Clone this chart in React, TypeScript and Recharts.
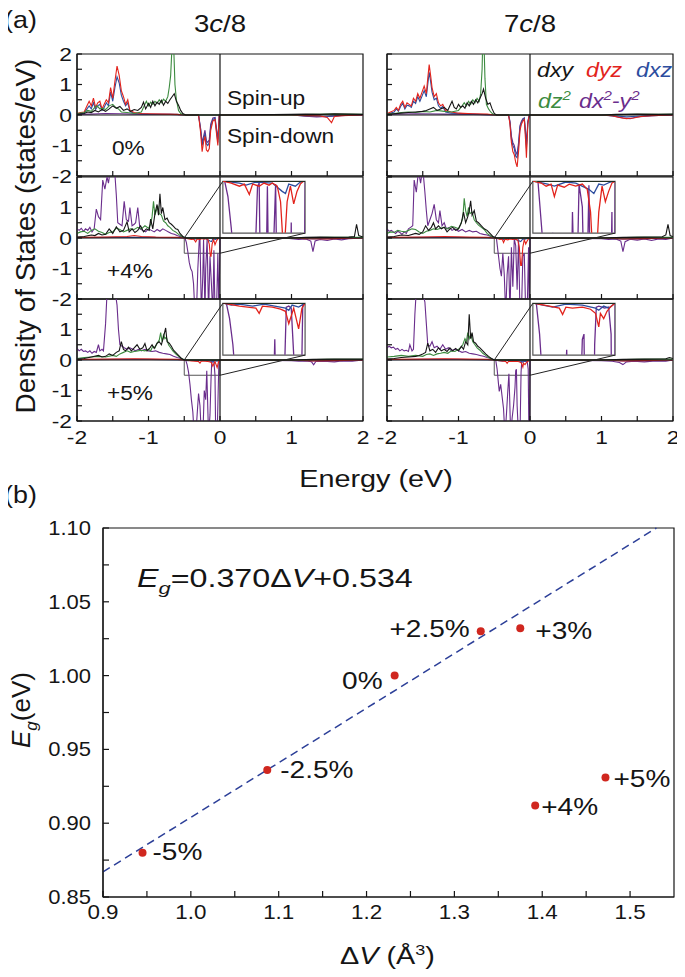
import React from 'react';
import { LineChart, Line, XAxis, YAxis, ReferenceLine, ReferenceArea, ComposedChart, Scatter } from 'recharts';

type Pt = [number, number];

// ---------- (a) DOS data: [energy (eV), DOS (states/eV)] ----------
// Panel A: 3c/8, 0%
const A_dxy: Pt[] = [[-2,0.02],[-1.9,0.05],[-1.85,0.1],[-1.8,0.08],[-1.75,0.15],[-1.7,0.1],[-1.65,0.18],[-1.6,0.12],[-1.55,0.2],[-1.5,0.3],[-1.45,0.22],[-1.4,0.28],[-1.35,0.15],[-1.3,0.2],[-1.25,0.12],[-1.2,0.18],[-1.15,0.15],[-1.1,0.25],[-1.07,0.42],[-1.04,0.2],[-1.0,0.38],[-0.97,0.25],[-0.94,0.45],[-0.91,0.3],[-0.88,0.42],[-0.85,0.35],[-0.82,0.48],[-0.79,0.32],[-0.76,0.45],[-0.73,0.38],[-0.7,0.5],[-0.67,0.6],[-0.64,0.7],[-0.61,0.45],[-0.58,0.32],[-0.55,0.15],[-0.52,0.05],[-0.48,0],[0,0],[1.0,0.02],[1.2,0.03],[1.4,0.02],[1.6,0.04],[1.8,0.03],[2,0.02]];
const A_dyz: Pt[] = [[-2,0.05],[-1.95,0.08],[-1.9,0.1],[-1.86,0.3],[-1.83,0.45],[-1.8,0.3],[-1.77,0.55],[-1.74,0.25],[-1.71,0.4],[-1.68,0.45],[-1.65,0.2],[-1.62,0.35],[-1.59,0.5],[-1.56,0.4],[-1.53,0.9],[-1.5,0.55],[-1.47,1.1],[-1.44,1.6],[-1.41,1.3],[-1.38,0.8],[-1.35,0.6],[-1.32,0.35],[-1.29,0.5],[-1.26,0.15],[-1.2,0.08],[-1.1,0.05],[-1.0,0.04],[-0.8,0.03],[-0.6,0.02],[-0.5,0],[-0.3,0],[-0.27,-0.6],[-0.25,-1.2],[-0.23,-0.9],[-0.21,-0.7],[-0.19,-1.15],[-0.17,-1.2],[-0.15,-1.1],[-0.13,-0.5],[-0.1,-0.2],[-0.07,-0.15],[-0.04,-0.8],[-0.03,-1.0],[-0.01,0],[0,0],[1.0,0],[1.2,-0.02],[1.4,-0.03],[1.5,-0.08],[1.56,-0.25],[1.6,-0.05],[1.7,-0.02],[2,0]];
const A_dxz: Pt[] = [[-2,0.03],[-1.9,0.06],[-1.86,0.2],[-1.83,0.3],[-1.8,0.2],[-1.77,0.4],[-1.74,0.18],[-1.71,0.3],[-1.68,0.35],[-1.65,0.15],[-1.62,0.25],[-1.59,0.4],[-1.56,0.3],[-1.53,0.75],[-1.5,0.45],[-1.47,0.9],[-1.44,1.25],[-1.41,1.05],[-1.38,0.65],[-1.35,0.45],[-1.32,0.3],[-1.29,0.4],[-1.26,0.12],[-1.2,0.05],[-1.0,0.03],[-0.6,0.02],[-0.5,0],[-0.3,0],[-0.27,-0.5],[-0.25,-1.0],[-0.23,-0.8],[-0.21,-0.6],[-0.19,-0.95],[-0.17,-1.0],[-0.15,-0.9],[-0.13,-0.4],[-0.1,-0.15],[-0.07,-0.1],[-0.04,-0.7],[-0.03,-0.9],[-0.01,0],[0,0],[1.0,0],[1.2,-0.03],[1.4,-0.05],[1.5,-0.04],[1.6,-0.03],[1.7,-0.01],[2,0]];
const A_dz2: Pt[] = [[-2,0.05],[-1.9,0.08],[-1.85,0.15],[-1.8,0.12],[-1.75,0.25],[-1.72,0.3],[-1.68,0.2],[-1.64,0.22],[-1.6,0.18],[-1.55,0.3],[-1.5,0.35],[-1.46,0.25],[-1.42,0.2],[-1.38,0.1],[-1.3,0.08],[-1.2,0.05],[-1.1,0.1],[-1.06,0.3],[-1.03,0.45],[-1.0,0.3],[-0.97,0.42],[-0.94,0.35],[-0.91,0.45],[-0.88,0.38],[-0.85,0.5],[-0.82,0.4],[-0.79,0.52],[-0.76,0.45],[-0.73,0.6],[-0.71,0.9],[-0.69,1.3],[-0.67,2.3],[-0.65,2.4],[-0.63,1.0],[-0.61,0.5],[-0.58,0.15],[-0.55,0.05],[-0.5,0],[0,0],[1.0,0],[1.3,0.02],[1.6,0.03],[2,0.02]];
const A_dx2: Pt[] = [[-2,0.02],[-1.8,0.03],[-1.6,0.05],[-1.4,0.04],[-1.2,0.03],[-1.0,0.02],[-0.7,0.02],[-0.5,0],[-0.3,0],[-0.27,-0.45],[-0.25,-0.9],[-0.23,-0.7],[-0.21,-0.5],[-0.19,-0.85],[-0.17,-0.9],[-0.15,-0.8],[-0.13,-0.3],[-0.1,-0.1],[-0.07,-0.08],[-0.04,-0.6],[-0.03,-0.8],[-0.01,0],[0,0],[1.0,0],[1.2,-0.04],[1.35,-0.06],[1.5,-0.05],[1.65,-0.03],[1.8,-0.01],[2,0]];

// Panel B: 7c/8, 0%
const B_dxy: Pt[] = [[-2,0.02],[-1.9,0.04],[-1.8,0.06],[-1.7,0.08],[-1.6,0.1],[-1.5,0.12],[-1.45,0.15],[-1.4,0.2],[-1.35,0.25],[-1.3,0.15],[-1.25,0.2],[-1.2,0.25],[-1.15,0.15],[-1.12,0.3],[-1.09,0.45],[-1.06,0.25],[-1.03,0.2],[-1.0,0.35],[-0.97,0.25],[-0.94,0.3],[-0.91,0.22],[-0.88,0.4],[-0.85,0.3],[-0.82,0.45],[-0.79,0.35],[-0.76,0.5],[-0.73,0.4],[-0.7,0.55],[-0.67,0.7],[-0.65,0.85],[-0.62,0.55],[-0.59,0.35],[-0.56,0.4],[-0.53,0.2],[-0.5,0.05],[-0.47,0],[0,0],[1.0,0],[1.2,0.02],[1.5,0.03],[1.8,0.02],[2,0.03]];
const B_dyz: Pt[] = [[-2,0.05],[-1.95,0.1],[-1.9,0.15],[-1.87,0.25],[-1.84,0.15],[-1.81,0.35],[-1.78,0.45],[-1.75,0.25],[-1.72,0.4],[-1.69,0.35],[-1.66,0.3],[-1.63,0.55],[-1.6,0.45],[-1.57,0.7],[-1.54,0.55],[-1.51,0.75],[-1.48,0.95],[-1.45,0.7],[-1.43,1.2],[-1.41,1.65],[-1.39,1.3],[-1.37,0.9],[-1.34,0.6],[-1.31,0.7],[-1.28,0.4],[-1.25,0.3],[-1.22,0.35],[-1.18,0.15],[-1.1,0.1],[-1.0,0.06],[-0.8,0.04],[-0.6,0.03],[-0.5,0],[-0.3,0],[-0.28,-0.3],[-0.26,-0.9],[-0.24,-1.2],[-0.22,-1.3],[-0.2,-1.55],[-0.18,-1.7],[-0.16,-1.2],[-0.14,-0.5],[-0.12,-0.3],[-0.1,-0.2],[-0.08,-0.15],[-0.06,-0.9],[-0.05,-1.4],[-0.03,-0.3],[-0.01,0],[0,0],[1.0,0],[1.15,-0.02],[1.25,-0.08],[1.35,-0.12],[1.45,-0.1],[1.55,-0.05],[1.7,-0.02],[2,0]];
const B_dxz: Pt[] = [[-2,0.03],[-1.9,0.1],[-1.87,0.2],[-1.84,0.12],[-1.81,0.28],[-1.78,0.38],[-1.75,0.2],[-1.72,0.32],[-1.69,0.3],[-1.66,0.25],[-1.63,0.45],[-1.6,0.38],[-1.57,0.6],[-1.54,0.45],[-1.51,0.62],[-1.48,0.8],[-1.45,0.6],[-1.43,1.0],[-1.41,1.4],[-1.39,1.1],[-1.37,0.75],[-1.34,0.5],[-1.31,0.55],[-1.28,0.3],[-1.25,0.22],[-1.22,0.28],[-1.18,0.1],[-1.1,0.06],[-0.8,0.03],[-0.5,0],[-0.3,0],[-0.28,-0.25],[-0.26,-0.8],[-0.24,-1.0],[-0.22,-1.1],[-0.2,-1.35],[-0.18,-1.4],[-0.16,-1.0],[-0.14,-0.4],[-0.12,-0.25],[-0.1,-0.15],[-0.08,-0.1],[-0.06,-0.7],[-0.05,-1.1],[-0.03,-0.25],[-0.01,0],[0,0],[1.0,0],[1.2,-0.03],[1.35,-0.06],[1.5,-0.04],[1.7,-0.02],[2,0]];
const B_dz2: Pt[] = [[-2,0.03],[-1.9,0.05],[-1.8,0.08],[-1.7,0.1],[-1.6,0.08],[-1.5,0.12],[-1.4,0.1],[-1.3,0.15],[-1.2,0.12],[-1.1,0.1],[-1.0,0.15],[-0.95,0.3],[-0.92,0.4],[-0.89,0.3],[-0.86,0.45],[-0.83,0.35],[-0.8,0.5],[-0.77,0.4],[-0.74,0.55],[-0.71,0.45],[-0.69,0.7],[-0.67,1.5],[-0.66,2.5],[-0.645,2.5],[-0.63,1.2],[-0.61,0.35],[-0.58,0.2],[-0.55,0.1],[-0.52,0.03],[-0.48,0],[0,0],[1.0,0],[1.5,0.02],[2,0.02]];
const B_dx2: Pt[] = [[-2,0.02],[-1.6,0.04],[-1.2,0.03],[-0.8,0.02],[-0.5,0],[-0.3,0],[-0.28,-0.2],[-0.26,-0.7],[-0.24,-0.9],[-0.22,-1.0],[-0.2,-1.2],[-0.18,-1.3],[-0.16,-0.9],[-0.14,-0.35],[-0.12,-0.2],[-0.1,-0.12],[-0.08,-0.1],[-0.06,-0.6],[-0.05,-1.0],[-0.03,-0.2],[-0.01,0],[0,0],[1.0,0],[1.15,-0.03],[1.3,-0.1],[1.4,-0.12],[1.5,-0.06],[1.7,-0.02],[2,0]];

// Panel C: 3c/8, +4%
const C_dxy: Pt[] = [[-2,0.03],[-1.9,0.05],[-1.8,0.1],[-1.75,0.08],[-1.7,0.15],[-1.65,0.1],[-1.6,0.12],[-1.55,0.3],[-1.5,0.15],[-1.45,0.37],[-1.4,0.2],[-1.35,0.25],[-1.3,0.53],[-1.27,0.2],[-1.23,0.3],[-1.19,0.18],[-1.15,0.25],[-1.11,0.4],[-1.07,0.2],[-1.03,0.3],[-0.99,0.25],[-0.97,0.62],[-0.94,0.3],[-0.91,0.8],[-0.88,1.1],[-0.86,0.75],[-0.84,1.45],[-0.82,0.8],[-0.8,1.0],[-0.77,0.6],[-0.74,0.65],[-0.71,0.5],[-0.68,0.45],[-0.65,0.38],[-0.62,0.3],[-0.59,0.28],[-0.56,0.15],[-0.52,0.05],[-0.48,0],[0,0],[1.0,0],[1.2,0.02],[1.4,0.03],[1.6,0.02],[1.8,0.03],[1.88,0.05],[1.91,0.45],[1.94,0.08],[2,0.03]];
const C_dyz: Pt[] = [[-2,0.02],[-1.6,0.03],[-1.3,0.05],[-1.2,0.08],[-1.1,0.05],[-0.9,0.03],[-0.6,0.02],[-0.5,0],[-0.45,-0.02],[-0.4,-0.05],[-0.37,-0.03],[-0.34,-0.13],[-0.32,-0.03],[-0.28,-0.05],[-0.25,-0.02],[-0.22,-0.04],[-0.2,-0.02],[-0.17,-0.05],[-0.15,-0.2],[-0.135,-0.6],[-0.125,-0.6],[-0.11,-0.2],[-0.09,-0.05],[-0.07,-0.22],[-0.05,-0.1],[-0.03,-0.03],[-0.01,0],[0,0],[1.0,0],[1.2,-0.02],[1.5,-0.03],[1.8,-0.01],[2,0]];
const C_dxz: Pt[] = [[-2,0.01],[-1.5,0.02],[-1.0,0.02],[-0.5,0],[-0.4,-0.02],[-0.36,-0.04],[-0.3,-0.01],[-0.2,-0.02],[-0.14,-0.1],[-0.12,-0.12],[-0.1,-0.03],[-0.06,-0.05],[-0.03,-0.01],[0,0],[1.0,0],[1.3,-0.03],[1.6,-0.02],[2,0]];
const C_dz2: Pt[] = [[-2,0.15],[-1.95,0.2],[-1.9,0.22],[-1.85,0.15],[-1.8,0.25],[-1.75,0.3],[-1.7,0.22],[-1.65,0.18],[-1.6,0.12],[-1.55,0.18],[-1.5,0.2],[-1.45,0.32],[-1.4,0.28],[-1.35,0.2],[-1.3,0.25],[-1.25,0.3],[-1.2,0.28],[-1.15,0.35],[-1.1,0.3],[-1.05,0.4],[-1.0,0.32],[-0.97,0.45],[-0.95,0.7],[-0.93,1.2],[-0.91,0.75],[-0.89,0.9],[-0.87,1.05],[-0.85,0.8],[-0.82,0.75],[-0.79,0.55],[-0.76,0.5],[-0.73,0.4],[-0.7,0.35],[-0.66,0.25],[-0.62,0.2],[-0.58,0.12],[-0.54,0.06],[-0.5,0.02],[-0.46,0],[0,0],[1.0,0],[1.5,0.02],[2,0.02]];
const C_dx2: Pt[] = [[-2,0.3],[-1.97,0.25],[-1.94,0.32],[-1.91,0.22],[-1.88,0.3],[-1.85,0.25],[-1.82,0.35],[-1.79,0.2],[-1.76,0.3],[-1.73,0.95],[-1.7,0.7],[-1.67,0.6],[-1.64,1.9],[-1.61,1.6],[-1.58,2.0],[-1.56,1.8],[-1.53,2.3],[-1.5,2.2],[-1.47,2.1],[-1.45,1.4],[-1.43,0.5],[-1.4,0.45],[-1.37,0.4],[-1.34,1.2],[-1.31,0.6],[-1.28,0.55],[-1.26,1.0],[-1.23,0.4],[-1.2,0.45],[-1.18,0.5],[-1.15,1.0],[-1.12,0.3],[-1.08,0.25],[-1.04,0.2],[-1.0,0.3],[-0.96,0.25],[-0.92,0.2],[-0.88,0.28],[-0.84,0.22],[-0.8,0.3],[-0.76,0.25],[-0.72,0.2],[-0.68,0.15],[-0.64,0.12],[-0.6,0.08],[-0.56,0.05],[-0.52,0.02],[-0.49,0],[-0.47,-0.15],[-0.45,-0.45],[-0.43,-0.8],[-0.41,-1.0],[-0.39,-1.1],[-0.37,-1.5],[-0.35,-2.5],[-0.33,-2.5],[-0.31,-1.0],[-0.29,-0.05],[-0.28,-0.02],[-0.26,-2.5],[-0.24,-1.2],[-0.23,-0.05],[-0.21,-2.5],[-0.2,-1.0],[-0.18,-0.03],[-0.16,-2.5],[-0.14,-0.6],[-0.12,-1.5],[-0.1,-2.5],[-0.085,-0.4],[-0.07,-2.5],[-0.05,-2.5],[-0.03,-0.5],[-0.015,-2.5],[0,0],[0.9,0],[1.0,-0.02],[1.1,-0.05],[1.2,-0.03],[1.27,-0.1],[1.3,-0.45],[1.33,-0.1],[1.4,-0.05],[1.5,-0.08],[1.6,-0.03],[1.7,-0.06],[1.8,-0.02],[2,0]];

// Panel D: 7c/8, +4%
const D_dxy: Pt[] = [[-2,0.03],[-1.9,0.05],[-1.8,0.1],[-1.7,0.08],[-1.6,0.15],[-1.55,0.12],[-1.5,0.2],[-1.46,0.4],[-1.42,0.25],[-1.38,0.35],[-1.35,0.5],[-1.32,0.3],[-1.28,0.4],[-1.24,0.3],[-1.2,0.35],[-1.16,0.2],[-1.12,0.3],[-1.08,0.35],[-1.04,0.25],[-1.0,0.3],[-0.96,0.5],[-0.93,0.85],[-0.9,0.5],[-0.87,0.7],[-0.85,0.9],[-0.83,1.22],[-0.81,0.75],[-0.78,0.9],[-0.75,0.55],[-0.72,0.5],[-0.68,0.4],[-0.64,0.3],[-0.6,0.25],[-0.56,0.15],[-0.52,0.05],[-0.47,0],[0,0],[1.0,0],[1.3,0.02],[1.6,0.03],[1.85,0.04],[1.9,0.1],[1.93,0.45],[1.96,0.08],[2,0.04]];
const D_dyz: Pt[] = [[-2,0.02],[-1.5,0.03],[-1.2,0.05],[-0.9,0.03],[-0.6,0.02],[-0.5,0],[-0.45,-0.02],[-0.42,-0.05],[-0.39,-0.03],[-0.37,-0.15],[-0.35,-0.04],[-0.31,-0.06],[-0.28,-0.03],[-0.24,-0.05],[-0.2,-0.03],[-0.17,-0.08],[-0.15,-0.3],[-0.13,-0.9],[-0.12,-0.9],[-0.1,-0.3],[-0.08,-0.05],[-0.06,-0.2],[-0.04,-0.1],[-0.02,-0.02],[0,0],[1.0,0],[1.3,-0.03],[1.6,-0.02],[2,0]];
const D_dxz: Pt[] = [[-2,0.01],[-1.5,0.02],[-1.0,0.02],[-0.5,0],[-0.41,-0.03],[-0.37,-0.05],[-0.3,-0.01],[-0.24,-0.02],[-0.16,-0.08],[-0.13,-0.12],[-0.1,-0.03],[-0.07,-0.04],[-0.03,-0.01],[0,0],[1.0,0],[1.3,-0.04],[1.6,-0.02],[2,0]];
const D_dz2: Pt[] = [[-2,0.15],[-1.95,0.2],[-1.9,0.18],[-1.85,0.25],[-1.8,0.22],[-1.75,0.2],[-1.7,0.25],[-1.65,0.3],[-1.6,0.28],[-1.55,0.2],[-1.5,0.15],[-1.45,0.22],[-1.4,0.25],[-1.35,0.3],[-1.3,0.28],[-1.25,0.32],[-1.2,0.35],[-1.15,0.3],[-1.1,0.38],[-1.05,0.35],[-1.0,0.3],[-0.97,0.45],[-0.94,0.65],[-0.92,1.3],[-0.9,0.9],[-0.88,0.7],[-0.86,1.0],[-0.84,0.8],[-0.81,0.85],[-0.78,0.6],[-0.75,0.5],[-0.72,0.42],[-0.68,0.35],[-0.64,0.28],[-0.6,0.15],[-0.56,0.08],[-0.52,0.03],[-0.48,0],[0,0],[1.0,0],[1.5,0.02],[2,0.02]];
const D_dx2: Pt[] = [[-2,0.3],[-1.97,0.22],[-1.94,0.25],[-1.91,0.2],[-1.88,0.15],[-1.85,0.22],[-1.82,0.18],[-1.79,0.12],[-1.76,0.2],[-1.73,0.15],[-1.7,0.3],[-1.67,0.35],[-1.64,0.4],[-1.62,1.9],[-1.59,1.5],[-1.56,2.2],[-1.53,1.8],[-1.5,2.3],[-1.47,1.5],[-1.45,0.9],[-1.43,0.4],[-1.4,0.6],[-1.37,0.8],[-1.34,1.1],[-1.31,0.6],[-1.28,0.5],[-1.26,0.9],[-1.23,0.4],[-1.2,0.5],[-1.17,0.3],[-1.13,0.35],[-1.09,0.25],[-1.05,0.3],[-1.0,0.22],[-0.95,0.28],[-0.9,0.2],[-0.85,0.25],[-0.8,0.2],[-0.75,0.22],[-0.7,0.15],[-0.65,0.12],[-0.6,0.1],[-0.55,0.05],[-0.5,0.02],[-0.47,0],[-0.46,-0.2],[-0.44,-0.6],[-0.42,-1.0],[-0.4,-1.25],[-0.38,-0.5],[-0.36,-1.2],[-0.34,-2.5],[-0.32,-1.2],[-0.3,-0.6],[-0.28,-2.5],[-0.26,-0.3],[-0.24,-1.6],[-0.22,-0.03],[-0.2,-0.25],[-0.18,-1.7],[-0.16,-0.04],[-0.14,-2.5],[-0.12,-2.5],[-0.1,-0.6],[-0.08,-0.5],[-0.06,-2.5],[-0.04,-2.5],[-0.02,-0.3],[-0.01,-2.5],[0,0],[1.0,-0.02],[1.1,-0.05],[1.2,-0.03],[1.27,-0.1],[1.3,-0.45],[1.33,-0.12],[1.4,-0.04],[1.5,-0.07],[1.6,-0.03],[1.7,-0.08],[1.8,-0.03],[1.9,-0.05],[2,0]];

// Panel E: 3c/8, +5%
const E_dxy: Pt[] = [[-2,0.03],[-1.9,0.05],[-1.8,0.1],[-1.7,0.15],[-1.65,0.1],[-1.6,0.12],[-1.55,0.2],[-1.5,0.15],[-1.45,0.25],[-1.41,0.3],[-1.38,0.6],[-1.35,0.35],[-1.32,0.3],[-1.28,0.42],[-1.24,0.3],[-1.2,0.4],[-1.16,0.5],[-1.12,0.35],[-1.08,0.4],[-1.05,0.54],[-1.02,0.3],[-0.98,0.4],[-0.95,0.5],[-0.92,0.38],[-0.88,0.55],[-0.85,0.6],[-0.82,0.5],[-0.79,0.75],[-0.76,1.05],[-0.74,0.6],[-0.71,0.55],[-0.68,0.45],[-0.65,0.32],[-0.62,0.25],[-0.58,0.15],[-0.54,0.05],[-0.5,0],[0,0],[1.0,0],[1.3,0.02],[1.6,0.03],[2,0.03]];
const E_dyz: Pt[] = [[-2,0.02],[-1.5,0.03],[-1.2,0.04],[-0.9,0.03],[-0.6,0.02],[-0.5,0],[-0.4,-0.03],[-0.3,-0.05],[-0.28,-0.1],[-0.26,-0.03],[-0.2,-0.04],[-0.15,-0.06],[-0.12,-0.08],[-0.1,-0.2],[-0.09,-0.15],[-0.07,-0.05],[-0.04,-0.25],[-0.02,-0.05],[0,0],[1.0,0],[1.3,-0.03],[1.6,-0.02],[2,0]];
const E_dxz: Pt[] = [[-2,0.01],[-1.5,0.02],[-1.0,0.02],[-0.5,0],[-0.45,-0.02],[-0.4,-0.01],[-0.32,-0.03],[-0.25,-0.01],[-0.12,-0.05],[-0.1,-0.07],[-0.08,-0.02],[-0.04,-0.04],[0,0],[1.0,0],[1.3,-0.03],[1.6,-0.02],[2,0]];
const E_dz2: Pt[] = [[-2,0.05],[-1.9,0.08],[-1.8,0.1],[-1.7,0.12],[-1.6,0.1],[-1.5,0.15],[-1.45,0.12],[-1.4,0.2],[-1.35,0.25],[-1.3,0.3],[-1.25,0.25],[-1.2,0.28],[-1.15,0.3],[-1.1,0.32],[-1.05,0.3],[-1.0,0.35],[-0.97,0.3],[-0.94,0.45],[-0.91,0.4],[-0.88,0.55],[-0.85,0.65],[-0.83,0.9],[-0.81,0.6],[-0.79,0.82],[-0.77,0.7],[-0.75,0.75],[-0.72,0.5],[-0.69,0.4],[-0.66,0.3],[-0.62,0.2],[-0.58,0.12],[-0.54,0.05],[-0.5,0.01],[-0.46,0],[0,0],[1.0,0],[1.5,0.02],[2,0.02]];
const E_dx2: Pt[] = [[-2,0.38],[-1.97,0.3],[-1.94,0.35],[-1.91,0.28],[-1.88,0.3],[-1.85,0.25],[-1.82,0.3],[-1.79,0.22],[-1.76,0.28],[-1.73,0.25],[-1.7,0.5],[-1.68,0.3],[-1.65,0.35],[-1.63,0.3],[-1.6,1.2],[-1.58,2.2],[-1.56,2.0],[-1.53,2.3],[-1.5,2.1],[-1.47,2.3],[-1.44,1.8],[-1.42,1.0],[-1.4,0.5],[-1.37,0.45],[-1.34,0.4],[-1.3,0.35],[-1.26,0.4],[-1.22,0.35],[-1.18,0.3],[-1.14,0.35],[-1.1,0.3],[-1.05,0.35],[-1.0,0.3],[-0.95,0.28],[-0.9,0.3],[-0.85,0.25],[-0.8,0.22],[-0.75,0.2],[-0.7,0.18],[-0.65,0.12],[-0.6,0.08],[-0.55,0.05],[-0.5,0.01],[-0.48,0],[-0.46,-0.15],[-0.44,-0.4],[-0.42,-0.8],[-0.4,-1.3],[-0.38,-1.7],[-0.36,-2.5],[-0.34,-2.5],[-0.32,-1.8],[-0.3,-1.1],[-0.28,-1.5],[-0.26,-2.5],[-0.24,-2.5],[-0.22,-1.0],[-0.2,-1.3],[-0.185,-0.35],[-0.175,-1.2],[-0.16,-2.5],[-0.14,-1.8],[-0.125,-0.6],[-0.115,-0.04],[-0.1,-0.03],[-0.085,-0.05],[-0.07,-0.5],[-0.06,-2.5],[-0.04,-2.5],[-0.025,-1.0],[-0.015,-0.02],[0,0],[1.0,-0.02],[1.1,-0.04],[1.2,-0.03],[1.28,-0.06],[1.31,-0.16],[1.34,-0.05],[1.45,-0.04],[1.6,-0.06],[1.7,-0.03],[1.85,-0.04],[2,0]];

// Panel F: 7c/8, +5%
const F_dxy: Pt[] = [[-2,0.03],[-1.9,0.05],[-1.8,0.08],[-1.7,0.1],[-1.6,0.12],[-1.55,0.15],[-1.5,0.2],[-1.46,0.25],[-1.43,0.55],[-1.4,0.3],[-1.36,0.35],[-1.32,0.25],[-1.28,0.4],[-1.24,0.3],[-1.2,0.35],[-1.16,0.28],[-1.12,0.4],[-1.08,0.3],[-1.04,0.38],[-1.0,0.3],[-0.96,0.45],[-0.93,0.35],[-0.9,0.6],[-0.87,0.5],[-0.85,1.5],[-0.83,0.7],[-0.81,0.9],[-0.79,0.6],[-0.76,0.55],[-0.73,0.45],[-0.7,0.4],[-0.66,0.3],[-0.62,0.2],[-0.58,0.12],[-0.54,0.05],[-0.5,0],[0,0],[1.0,0],[1.3,0.02],[1.6,0.03],[1.9,0.04],[1.95,0.08],[2,0.05]];
const F_dyz: Pt[] = [[-2,0.02],[-1.5,0.03],[-1.2,0.04],[-0.9,0.03],[-0.6,0.02],[-0.5,0],[-0.4,-0.03],[-0.34,-0.05],[-0.32,-0.11],[-0.3,-0.04],[-0.26,-0.05],[-0.2,-0.04],[-0.15,-0.06],[-0.12,-0.1],[-0.1,-0.23],[-0.09,-0.1],[-0.07,-0.15],[-0.05,-0.08],[-0.03,-0.04],[0,0],[1.0,0],[1.3,-0.03],[1.6,-0.02],[2,0]];
const F_dxz: Pt[] = [[-2,0.01],[-1.5,0.02],[-1.0,0.02],[-0.5,0],[-0.44,-0.02],[-0.38,-0.04],[-0.3,-0.01],[-0.2,-0.02],[-0.12,-0.05],[-0.1,-0.07],[-0.07,-0.03],[-0.04,-0.05],[0,0],[1.0,0],[1.3,-0.03],[1.6,-0.02],[2,0]];
const F_dz2: Pt[] = [[-2,0.1],[-1.9,0.12],[-1.8,0.15],[-1.7,0.12],[-1.6,0.15],[-1.5,0.12],[-1.45,0.18],[-1.4,0.2],[-1.35,0.15],[-1.3,0.2],[-1.25,0.22],[-1.2,0.25],[-1.15,0.22],[-1.1,0.3],[-1.05,0.28],[-1.0,0.35],[-0.97,0.4],[-0.94,0.5],[-0.91,0.7],[-0.89,0.6],[-0.87,0.9],[-0.85,0.7],[-0.83,0.85],[-0.8,0.6],[-0.77,0.5],[-0.74,0.4],[-0.7,0.32],[-0.66,0.22],[-0.62,0.15],[-0.58,0.08],[-0.54,0.03],[-0.5,0],[0,0],[1.0,0],[1.5,0.02],[2,0.03]];
const F_dx2: Pt[] = [[-2,0.4],[-1.97,0.45],[-1.94,0.4],[-1.91,0.42],[-1.88,0.35],[-1.85,0.38],[-1.82,0.3],[-1.79,0.35],[-1.76,0.3],[-1.73,0.32],[-1.7,0.28],[-1.68,0.5],[-1.65,0.3],[-1.63,0.35],[-1.61,1.5],[-1.59,2.3],[-1.56,2.1],[-1.53,2.4],[-1.5,2.2],[-1.47,1.9],[-1.45,1.2],[-1.43,0.5],[-1.4,0.45],[-1.37,0.6],[-1.34,0.4],[-1.3,0.45],[-1.26,0.35],[-1.22,0.5],[-1.18,0.35],[-1.14,0.4],[-1.1,0.3],[-1.05,0.35],[-1.0,0.3],[-0.95,0.25],[-0.9,0.28],[-0.85,0.22],[-0.8,0.2],[-0.75,0.18],[-0.7,0.15],[-0.65,0.12],[-0.6,0.08],[-0.55,0.05],[-0.5,0.01],[-0.48,0],[-0.46,-0.3],[-0.44,-0.8],[-0.43,-1.03],[-0.41,-0.8],[-0.39,-1.2],[-0.37,-1.6],[-0.35,-2.5],[-0.33,-1.8],[-0.31,-1.0],[-0.295,-0.45],[-0.285,-1.2],[-0.27,-2.5],[-0.25,-1.9],[-0.23,-1.5],[-0.21,-0.9],[-0.2,-0.35],[-0.19,-0.3],[-0.18,-1.5],[-0.16,-2.5],[-0.14,-2.5],[-0.125,-0.4],[-0.115,-0.04],[-0.1,-0.03],[-0.08,-0.04],[-0.065,-0.05],[-0.04,-0.04],[-0.025,-0.3],[-0.015,-2.5],[-0.005,-2.5],[0,0],[1.0,-0.02],[1.15,-0.04],[1.25,-0.08],[1.3,-0.15],[1.35,-0.06],[1.45,-0.04],[1.6,-0.06],[1.75,-0.03],[1.9,-0.04],[2,0]];

const E_TICKS = [-2, -1.5, -1, -0.5, 0, 0.5, 1, 1.5, 2];
const DOS_TICKS = [-2, -1.5, -1, -0.5, 0, 0.5, 1, 1.5, 2];
const COLUMN_TITLES = ['3c/8', '7c/8'];
const STRAIN_ROWS = ['0%', '+4%', '+5%'];

// ---------- (b) band gap data ----------
const DV = [0.945, 1.087, 1.232, 1.330, 1.375, 1.392, 1.472];
const EG = [0.880, 0.936, 1.000, 1.030, 1.032, 0.912, 0.931];
const STRAIN = ['-5%', '-2.5%', '0%', '+2.5%', '+3%', '+4%', '+5%'];
const FIT_DV = [0.9, 1.53];
const FIT_EG = [0.867, 1.100];
const DV_TICKS = [0.9, 0.95, 1.0, 1.05, 1.1, 1.15, 1.2, 1.25, 1.3, 1.35, 1.4, 1.45, 1.5];
const EG_TICKS = [0.85, 0.875, 0.9, 0.925, 0.95, 0.975, 1.0, 1.025, 1.05, 1.075, 1.1];

// ---------- styles ----------
const FONT = '"Liberation Sans", Arial, Helvetica, sans-serif';
const INK = '#151515';
const COLORS: Record<string, string> = { dxy: '#151515', dyz: '#e2231c', dxz: '#2d4d9e', dz2: '#3c8b3f', dx2: '#6a2d8c' };
const DRAW_ORDER = ['dx2', 'dxz', 'dyz', 'dz2', 'dxy'];
const LABEL_STYLE = [
  { dx: 10, dy: 7, anchor: 'start' },
  { dx: 13, dy: 8, anchor: 'start' },
  { dx: -12, dy: 13, anchor: 'end' },
  { dx: -11, dy: 6, anchor: 'end' },
  { dx: 15, dy: 11, anchor: 'start' },
  { dx: 6, dy: 10, anchor: 'start' },
  { dx: 8, dy: 10, anchor: 'start' },
];

const toObj = (a: Pt[]) => a.map(([e, v]) => ({ e, v }));

const PANELS = [
  { col: 0, row: 0, inset: false, s: { dxy: A_dxy, dyz: A_dyz, dxz: A_dxz, dz2: A_dz2, dx2: A_dx2 } },
  { col: 1, row: 0, inset: false, s: { dxy: B_dxy, dyz: B_dyz, dxz: B_dxz, dz2: B_dz2, dx2: B_dx2 } },
  { col: 0, row: 1, inset: true, s: { dxy: C_dxy, dyz: C_dyz, dxz: C_dxz, dz2: C_dz2, dx2: C_dx2 } },
  { col: 1, row: 1, inset: true, s: { dxy: D_dxy, dyz: D_dyz, dxz: D_dxz, dz2: D_dz2, dx2: D_dx2 } },
  { col: 0, row: 2, inset: true, s: { dxy: E_dxy, dyz: E_dyz, dxz: E_dxz, dz2: E_dz2, dx2: E_dx2 } },
  { col: 1, row: 2, inset: true, s: { dxy: F_dxy, dyz: F_dyz, dxz: F_dxz, dz2: F_dz2, dx2: F_dx2 } },
];

const PW = 286;
const PH = 122;
const COL_LEFT = [77, 387];
const ROW_TOP = [54, 176.5, 299];
const YW = 40;
const MT = 12;
const MR = 10;
const ZOOM_BOX = { x1: -0.5, x2: 0, y1: -0.5, y2: 0 };
const INSET_BOX = { x1: 0.04, x2: 1.19, y1: 0.16, y2: 1.86 };

function SText(props: any) {
  const { x, y, sx = 1.18, size = 20, anchor = 'start', color = INK, italic = false, children, dy } = props;
  return (
    <text transform={`translate(${x},${y}) scale(${sx},1)`} x={0} y={0} dy={dy} fontSize={size} textAnchor={anchor}
      fill={color} fontFamily={FONT} fontStyle={italic ? 'italic' : 'normal'}>
      {children}
    </text>
  );
}

const isMult = (v: number, step: number) => Math.abs(v / step - Math.round(v / step)) < 1e-6;

function DosPanel({ panel }: any) {
  const { col, row, inset, s } = panel;
  const bottomRow = row === 2;
  const xh = bottomRow ? 34 : 1;
  const mb = bottomRow ? 0 : 12;
  const width = YW + PW + MR;
  const height = MT + PH + xh + mb;
  const xTick = (p: any) => {
    const v = p.payload.value;
    if (!bottomRow || !isMult(v, 1)) return <g />;
    return <SText x={p.x} y={p.y} dy="0.72em" anchor="middle" size={19} sx={1.2}>{String(v)}</SText>;
  };
  const yTick = (p: any) => {
    const v = p.payload.value;
    if (col !== 0 || !isMult(v, 1) || (row > 0 && v === 2)) return <g />;
    return <SText x={p.x} y={p.y} dy="0.35em" anchor="end" size={19} sx={1.2}>{String(v)}</SText>;
  };
  const insetLeft = YW + ((INSET_BOX.x1 + 2) / 4) * PW;
  const insetTop = MT + ((2 - INSET_BOX.y2) / 4) * PH;
  const insetW = ((INSET_BOX.x2 - INSET_BOX.x1) / 4) * PW;
  const insetH = ((INSET_BOX.y2 - INSET_BOX.y1) / 4) * PH;
  return (
    <div style={{ position: 'absolute', left: COL_LEFT[col] - YW, top: ROW_TOP[row] - MT, width, height }}>
      <LineChart width={width} height={height} margin={{ top: MT, right: MR, left: 0, bottom: mb }}>
        <XAxis type="number" dataKey="e" domain={[-2, 2]} ticks={E_TICKS} allowDataOverflow height={xh}
          tickSize={-5} tickMargin={14} tick={xTick} stroke={INK} strokeWidth={1.2} interval={0} />
        <YAxis type="number" dataKey="v" domain={[-2, 2]} ticks={DOS_TICKS} allowDataOverflow width={YW}
          tickSize={-5} tickMargin={10} tick={yTick} stroke={INK} strokeWidth={1.2} interval={0} />
        <ReferenceArea x1={-2} x2={2} y1={-2} y2={2} fill="none" stroke={INK} strokeWidth={1.2} ifOverflow="visible" />
        {DRAW_ORDER.map((k) => (
          <Line key={k} data={toObj(s[k])} dataKey="v" type="linear" stroke={COLORS[k]} strokeWidth={1.1}
            dot={false} isAnimationActive={false} />
        ))}
        <ReferenceLine x={0} stroke={INK} strokeWidth={1.2} />
        <ReferenceLine y={0} stroke={INK} strokeWidth={1.2} />
        {inset && (
          <ReferenceArea x1={ZOOM_BOX.x1} x2={ZOOM_BOX.x2} y1={ZOOM_BOX.y1} y2={ZOOM_BOX.y2} fill="none" stroke="#555" strokeWidth={1} />
        )}
        {inset && (
          <ReferenceArea x1={INSET_BOX.x1} x2={INSET_BOX.x2} y1={INSET_BOX.y1} y2={INSET_BOX.y2} fill="none" stroke="#555" strokeWidth={1.2} />
        )}
        {inset && (
          <ReferenceLine segment={[{ x: ZOOM_BOX.x1, y: ZOOM_BOX.y2 }, { x: INSET_BOX.x1, y: INSET_BOX.y2 }]} stroke="#222" strokeWidth={1} />
        )}
        {inset && (
          <ReferenceLine segment={[{ x: ZOOM_BOX.x2, y: ZOOM_BOX.y1 }, { x: INSET_BOX.x2, y: INSET_BOX.y1 }]} stroke="#222" strokeWidth={1} />
        )}
      </LineChart>
      {inset && (
        <div style={{ position: 'absolute', left: insetLeft, top: insetTop, width: insetW, height: insetH }}>
          <LineChart width={insetW} height={insetH} margin={{ top: 0, right: 0, left: 0, bottom: 0 }}>
            <XAxis type="number" dataKey="e" domain={[ZOOM_BOX.x1, ZOOM_BOX.x2]} allowDataOverflow hide />
            <YAxis type="number" dataKey="v" domain={[ZOOM_BOX.y1, ZOOM_BOX.y2]} allowDataOverflow hide />
            {DRAW_ORDER.map((k) => (
              <Line key={k} data={toObj(s[k])} dataKey="v" type="linear" stroke={COLORS[k]} strokeWidth={1.3}
                dot={false} isAnimationActive={false} />
            ))}
          </LineChart>
        </div>
      )}
    </div>
  );
}

const B_MT = 14;

function GapChart() {
  const pts = DV.map((dv, i) => ({ dv, eg: EG[i], label: STRAIN[i], idx: i }));
  const xTick = (p: any) => {
    const v = p.payload.value;
    if (!isMult(v, 0.1)) return <g />;
    return <SText x={p.x} y={p.y} dy="0.72em" anchor="middle" size={20} sx={1.12}>{v.toFixed(1)}</SText>;
  };
  const yTick = (p: any) => {
    const v = p.payload.value;
    if (!isMult(v, 0.05)) return <g />;
    return <SText x={p.x} y={p.y} dy="0.35em" anchor="end" size={20} sx={1.1}>{v.toFixed(2)}</SText>;
  };
  const shape = (p: any) => {
    const st = LABEL_STYLE[p.payload.idx];
    return (
      <g>
        <circle cx={p.cx} cy={p.cy} r={4} fill="#d0271f" />
        <SText x={p.cx + st.dx} y={p.cy + st.dy} anchor={st.anchor} size={23} sx={1.22}>{p.payload.label}</SText>
      </g>
    );
  };
  return (
    <div style={{ position: 'absolute', left: 43, top: 528 - B_MT }}>
      <ComposedChart width={636} height={B_MT + 369 + 40} margin={{ top: B_MT, right: 5, left: 0, bottom: 0 }}>
        <XAxis type="number" dataKey="dv" domain={[0.9, 1.55]} ticks={DV_TICKS} allowDataOverflow height={40}
          tickSize={-6} tickMargin={14} tick={xTick} stroke={INK} strokeWidth={1.2} interval={0} />
        <YAxis type="number" dataKey="eg" domain={[0.85, 1.1]} ticks={EG_TICKS} allowDataOverflow width={60}
          tickSize={-6} tickMargin={18} tick={yTick} stroke={INK} strokeWidth={1.2} interval={0} />
        <ReferenceArea x1={0.9} x2={1.55} y1={0.85} y2={1.1} fill="none" stroke={INK} strokeWidth={1.2} ifOverflow="visible" />
        <ReferenceLine segment={[{ x: FIT_DV[0], y: FIT_EG[0] }, { x: FIT_DV[1], y: FIT_EG[1] }]}
          stroke="#2c3f98" strokeWidth={1.5} strokeDasharray="8 5" />
        <Scatter data={pts} shape={shape} isAnimationActive={false} />
      </ComposedChart>
    </div>
  );
}

function Overlay() {
  return (
    <svg width={685} height={977} style={{ position: 'absolute', left: 0, top: 0, pointerEvents: 'none' }}>
      <SText x={4} y={28} size={24} sx={1.12}>(a)</SText>
      {COLUMN_TITLES.map((t, i) => (
        <SText key={t} x={COL_LEFT[i] + PW / 2} y={32} size={23} sx={1.2} anchor="middle">
          {t[0]}<tspan fontStyle="italic">{t[1]}</tspan>{t.slice(2)}
        </SText>
      ))}
      {/* legend */}
      <SText x={537} y={77} size={20} sx={1.16} italic color={COLORS.dxy}>dxy</SText>
      <SText x={586} y={77} size={20} sx={1.16} italic color={COLORS.dyz}>dyz</SText>
      <SText x={636} y={77} size={20} sx={1.16} italic color={COLORS.dxz}>dxz</SText>
      <SText x={538} y={108} size={20} sx={1.16} italic color={COLORS.dz2}>dz<tspan dy={-8} fontSize={13}>2</tspan></SText>
      <SText x={579} y={108} size={20} sx={1.16} italic color={COLORS.dx2}>
        dx<tspan dy={-8} fontSize={13}>2</tspan><tspan dy={8}>-y</tspan><tspan dy={-8} fontSize={13}>2</tspan>
      </SText>
      <SText x={227} y={105} size={21} sx={1.08}>Spin-up</SText>
      <SText x={227} y={143} size={21} sx={1.08}>Spin-down</SText>
      {STRAIN_ROWS.map((t, i) => (
        <SText key={t} x={i === 0 ? 112 : 107} y={[155, 278, 400][i]} size={21} sx={1.08}>{t}</SText>
      ))}
      <SText x={376} y={487} size={24} sx={1.2} anchor="middle">Energy (eV)</SText>
      <text transform="translate(35,236) rotate(-90)" fontSize={28} textAnchor="middle" fill={INK} fontFamily={FONT}>
        Density of States (states/eV)
      </text>
      {/* (b) */}
      <SText x={4} y={503} size={24} sx={1.12}>(b)</SText>
      <SText x={137} y={587} size={25} sx={1.29}>
        <tspan fontStyle="italic">E</tspan><tspan dy={7} fontSize={17} fontStyle="italic">g</tspan>
        <tspan dy={-7}>=0.370Δ</tspan><tspan fontStyle="italic">V</tspan><tspan>+0.534</tspan>
      </SText>
      <text transform="translate(30,710) rotate(-90)" fontSize={26} textAnchor="middle" fill={INK} fontFamily={FONT}>
        <tspan fontStyle="italic">E</tspan><tspan dy={7} fontSize={17} fontStyle="italic">g</tspan><tspan dy={-7}>(eV)</tspan>
      </text>
      <SText x={340} y={964} size={24} sx={1.2}>
        Δ<tspan fontStyle="italic">V</tspan> (Å<tspan dy={-9} fontSize={15}>3</tspan><tspan dy={9}>)</tspan>
      </SText>
    </svg>
  );
}

export default function App() {
  return (
    <div style={{ position: 'relative', width: 685, height: 977, background: '#fff', margin: '-8px 0 0 -8px', fontFamily: FONT }}>
      {PANELS.map((p, i) => <DosPanel key={i} panel={p} />)}
      <GapChart />
      <Overlay />
    </div>
  );
}
